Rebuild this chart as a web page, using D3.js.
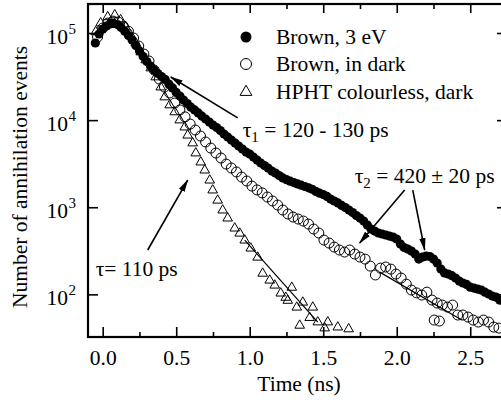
<!DOCTYPE html>
<html>
<head>
<meta charset="utf-8">
<script src="https://cdn.jsdelivr.net/npm/d3@7"></script>
<style>
  html, body { margin: 0; padding: 0; background: #fff; }
  svg { display: block; font-family: "Liberation Serif", "Times New Roman", serif; }
</style>
</head>
<body>
<svg id="chart" width="501" height="403" font-family="Liberation Serif"></svg>
<script>
// --- data: [time (ns), counts] ---

// Brown, 3 eV (filled circles)
const brown3eV = [
  [-0.050, 76800], [-0.025, 97400], [0.000, 111000], [0.025, 120000], [0.050, 127000],
  [0.075, 129000], [0.100, 125000], [0.125, 116000], [0.150, 105000], [0.175, 93600],
  [0.200, 83100], [0.225, 71900], [0.250, 62200], [0.275, 53700], [0.300, 47100],
  [0.325, 41800], [0.350, 37600], [0.375, 34300], [0.400, 31700], [0.425, 29300],
  [0.450, 26000], [0.475, 23400], [0.500, 20800], [0.525, 18900], [0.550, 17000],
  [0.575, 15500], [0.600, 14100], [0.625, 13100], [0.650, 12100], [0.675, 11100],
  [0.700, 10300], [0.725, 9510], [0.750, 8780], [0.775, 8230], [0.800, 7600],
  [0.825, 6930], [0.850, 6400], [0.875, 5910], [0.900, 5460], [0.925, 5040],
  [0.950, 4660], [0.975, 4300], [1.000, 4080], [1.025, 3770], [1.050, 3480],
  [1.075, 3220], [1.100, 3010], [1.125, 2820], [1.150, 2600], [1.175, 2470],
  [1.200, 2310], [1.225, 2170], [1.250, 2070], [1.275, 1990], [1.300, 1920],
  [1.325, 1850], [1.350, 1790], [1.375, 1730], [1.400, 1670], [1.425, 1610],
  [1.450, 1520], [1.475, 1450], [1.500, 1400], [1.525, 1330], [1.550, 1240],
  [1.575, 1180], [1.600, 1120], [1.625, 1050], [1.650, 992], [1.675, 929],
  [1.700, 869], [1.725, 803], [1.750, 752], [1.775, 694], [1.800, 625],
  [1.825, 562], [1.850, 533], [1.875, 506], [1.900, 493], [1.925, 480],
  [1.950, 467], [1.975, 455], [2.000, 432], [2.025, 378], [2.050, 345],
  [2.075, 331], [2.100, 314], [2.125, 290], [2.150, 254], [2.175, 268],
  [2.200, 275], [2.225, 272], [2.250, 254], [2.275, 229], [2.300, 195],
  [2.325, 176], [2.350, 171], [2.375, 164], [2.400, 154], [2.425, 142],
  [2.450, 135], [2.475, 130], [2.500, 121], [2.525, 118], [2.550, 115],
  [2.575, 112], [2.600, 106], [2.625, 101], [2.650, 95.6], [2.675, 93.1],
  [2.700, 86.0], [2.725, 86.0]
];

// Brown, in dark (open circles)
const brownDark = [
  [-0.035, 90000], [0.000, 114000], [0.035, 130000], [0.070, 137000], [0.105, 134000],
  [0.140, 120000], [0.175, 105000], [0.210, 87600], [0.245, 70900], [0.280, 57400],
  [0.315, 47700], [0.350, 37600], [0.385, 29600], [0.420, 24000], [0.455, 20500],
  [0.490, 15700], [0.525, 13100], [0.560, 10900], [0.595, 9020], [0.630, 7700],
  [0.665, 6570], [0.700, 5610], [0.735, 4780], [0.770, 4190], [0.805, 3670],
  [0.840, 3130], [0.875, 2820], [0.910, 2540], [0.945, 2220], [0.980, 2000],
  [1.015, 1750], [1.050, 1580], [1.085, 1460], [1.120, 1310], [1.155, 1180],
  [1.190, 1060], [1.225, 929], [1.260, 836], [1.295, 772], [1.330, 732],
  [1.365, 694], [1.400, 641], [1.435, 562], [1.470, 506], [1.505, 420],
  [1.540, 388], [1.575, 349], [1.610, 323], [1.645, 306], [1.680, 323],
  [1.715, 290], [1.750, 268], [1.785, 254], [1.820, 211], [1.855, 167],
  [1.890, 200], [1.925, 206], [1.960, 195], [1.995, 171], [2.030, 154],
  [2.065, 131], [2.100, 112], [2.135, 104], [2.170, 98.2], [2.205, 106],
  [2.240, 86.0], [2.255, 50.7], [2.275, 79.5], [2.290, 49.4], [2.310, 75.4],
  [2.345, 71.5], [2.380, 75.4], [2.415, 57.9], [2.450, 57.9], [2.485, 54.9],
  [2.520, 50.7], [2.555, 48.1], [2.590, 50.7], [2.625, 48.1], [2.660, 42.1],
  [2.695, 41.0]
];

// HPHT colourless, dark (open triangles)
const hphtDark = [
  [-0.048, 103000], [-0.014, 130000], [0.034, 153000], [0.082, 161000], [0.122, 141000],
  [0.156, 117000], [0.190, 95000], [0.224, 77000], [0.259, 60500], [0.293, 49000],
  [0.327, 39600], [0.361, 31200], [0.395, 23900], [0.422, 18400], [0.456, 14900],
  [0.490, 12400], [0.524, 10000], [0.558, 8300], [0.578, 6700], [0.612, 5450],
  [0.633, 4180], [0.667, 3290], [0.694, 2660], [0.728, 2040], [0.748, 1570],
  [0.782, 1200], [0.816, 925], [0.850, 748], [0.898, 574], [0.932, 502],
  [0.966, 418], [1.007, 338], [1.054, 266], [1.088, 174], [1.136, 145],
  [1.170, 127], [1.211, 103], [1.245, 92], [1.259, 85], [1.286, 120],
  [1.320, 71], [1.340, 44], [1.361, 81], [1.408, 54], [1.429, 71],
  [1.463, 48], [1.510, 41], [1.531, 48], [1.599, 42], [1.673, 40]
];

// fitted exponential segments (end points)
const fitDark = [[1.884, 180], [2.442, 50.7]];
const fitHPHT = [[0.966, 420], [1.463, 48.1]];

const legendLabels = ["Brown, 3 eV", "Brown, in dark", "HPHT colourless, dark"];
const xTicks = [0, 0.5, 1.0, 1.5, 2.0, 2.5];
const xMinorTicks = [0.25, 0.75, 1.25, 1.75, 2.25];
const yDecades = [2, 3, 4, 5];

// --- layout ---
const svg = d3.select("#chart");
const plotL = 88, plotR = 507, plotT = 4, plotB = 337;

const x = d3.scaleLinear().domain([-0.1, 2.75]).range([plotL, plotR]);
const y = d3.scaleLog().domain([32.4, 2.153e5]).range([plotB, plotT]);

const defs = svg.append("defs");
// arrowhead
defs.append("marker")
  .attr("id", "arrow")
  .attr("markerUnits", "userSpaceOnUse")
  .attr("markerWidth", 13).attr("markerHeight", 8)
  .attr("refX", 12).attr("refY", 4)
  .attr("orient", "auto")
  .append("path").attr("d", "M0,0.8 L13,4 L0,7.2 Z").attr("fill", "#000");

defs.append("clipPath").attr("id", "plot")
  .append("rect").attr("x", plotL).attr("y", plotT)
  .attr("width", plotR - plotL).attr("height", plotB - plotT);

const plot = svg.append("g").attr("clip-path", "url(#plot)");

// filled circles
plot.append("g").selectAll("circle")
  .data(brown3eV).join("circle")
  .attr("cx", d => x(d[0])).attr("cy", d => y(d[1]))
  .attr("r", 4.6).attr("fill", "#000");

// open circles
plot.append("g").selectAll("circle")
  .data(brownDark).join("circle")
  .attr("cx", d => x(d[0])).attr("cy", d => y(d[1]))
  .attr("r", 5).attr("fill", "none").attr("stroke", "#000").attr("stroke-width", 1);

// triangles
const tri = d3.symbol(d3.symbolTriangle).size(40);
plot.append("g").selectAll("path")
  .data(hphtDark).join("path")
  .attr("d", tri)
  .attr("transform", d => `translate(${x(d[0])},${y(d[1])})`)
  .attr("fill", "none").attr("stroke", "#000").attr("stroke-width", 1);

// fit lines
const line = d3.line().x(d => x(d[0])).y(d => y(d[1]));
[fitDark, fitHPHT].forEach(f => {
  plot.append("path").attr("d", line(f))
    .attr("fill", "none").attr("stroke", "#000").attr("stroke-width", 1.2);
});

// --- axes (ticks point inward) ---
const axG = svg.append("g");
function styleAxis(g) {
  g.select(".domain").remove();
  g.attr("font-family", "Liberation Serif");
  g.selectAll("line").attr("stroke", "#000").attr("stroke-width", 1.6);
  g.selectAll("text").attr("font-size", 21.5).attr("fill", "#000");
}
axG.append("g").attr("transform", `translate(0,${plotB})`)
  .call(d3.axisBottom(x).tickValues(xTicks).tickSize(-10).tickPadding(13).tickFormat(d3.format(".1f")))
  .call(styleAxis);
axG.append("g").attr("transform", `translate(0,${plotB})`)
  .call(d3.axisBottom(x).tickValues(xMinorTicks).tickSize(-5).tickFormat(""))
  .call(styleAxis);
axG.append("g").attr("transform", `translate(0,${plotT})`)
  .call(d3.axisTop(x).tickValues(xTicks).tickSize(-9).tickFormat(""))
  .call(styleAxis);
axG.append("g").attr("transform", `translate(0,${plotT})`)
  .call(d3.axisTop(x).tickValues(xMinorTicks).tickSize(-5).tickFormat(""))
  .call(styleAxis);
const decadeVals = yDecades.map(p => Math.pow(10, p));
axG.append("g").attr("transform", `translate(${plotL},0)`)
  .call(d3.axisLeft(y).tickValues(decadeVals).tickSize(-10).tickFormat(""))
  .call(styleAxis);
axG.append("g").attr("transform", `translate(${plotR},0)`)
  .call(d3.axisRight(y).tickValues(decadeVals).tickSize(-10).tickFormat(""))
  .call(styleAxis);

// frame
svg.append("rect")
  .attr("x", plotL).attr("y", plotT)
  .attr("width", plotR - plotL).attr("height", plotB - plotT)
  .attr("fill", "none").attr("stroke", "#000").attr("stroke-width", 2.2);

// y tick labels 10^n
const yl = svg.append("g").attr("fill", "#000");
yDecades.forEach(p => {
  const yy = y(Math.pow(10, p));
  yl.append("text").attr("x", 68).attr("y", yy + 11)
    .attr("text-anchor", "end").attr("font-size", 21.5).text("10");
  yl.append("text").attr("x", 68.5).attr("y", yy + 1)
    .attr("font-size", 15).text(p);
});

// axis titles
svg.append("text")
  .attr("x", 299).attr("y", 391)
  .attr("text-anchor", "middle").attr("font-size", 21.5)
  .text("Time (ns)");
svg.append("text")
  .attr("transform", "translate(27,177) rotate(-90)")
  .attr("text-anchor", "middle").attr("font-size", 21.5)
  .text("Number of annihilation events");

// legend
const leg = svg.append("g");
const legY = [37, 64, 92];
leg.append("circle").attr("cx", 246).attr("cy", legY[0]).attr("r", 5.5).attr("fill", "#000");
leg.append("circle").attr("cx", 246).attr("cy", legY[1]).attr("r", 5.5)
  .attr("fill", "none").attr("stroke", "#000").attr("stroke-width", 1);
leg.append("path").attr("d", d3.symbol(d3.symbolTriangle).size(60))
  .attr("transform", `translate(246,${legY[2]})`)
  .attr("fill", "none").attr("stroke", "#000").attr("stroke-width", 1);
legendLabels.forEach((s, i) => {
  leg.append("text").attr("x", 276).attr("y", legY[i] + 7)
    .attr("font-size", 21.5).text(s);
});

// annotations: arrows in data coordinates
const arrows = [
  [[0.918, 10600], [0.463, 31300]],
  [[2.054, 1576], [1.748, 388]],
  [[2.109, 1576], [2.190, 323]],
  [[0.306, 323], [0.578, 2053]]
];
arrows.forEach(a => {
  svg.append("line")
    .attr("x1", x(a[0][0])).attr("y1", y(a[0][1]))
    .attr("x2", x(a[1][0])).attr("y2", y(a[1][1]))
    .attr("stroke", "#000").attr("stroke-width", 1.6)
    .attr("marker-end", "url(#arrow)");
});

function tauLabel(px, py, sub, rest) {
  const t = svg.append("text").attr("x", px).attr("y", py).attr("font-size", 21.5);
  t.append("tspan").text("τ");
  if (sub) {
    t.append("tspan").attr("dy", 5).attr("font-size", 15).text(sub);
    t.append("tspan").attr("dy", -5).text(rest);
  } else {
    t.append("tspan").text(rest);
  }
}
tauLabel(x(0.952), y(6400), "1", " = 120 - 130 ps");
tauLabel(x(1.714), y(1896), "2", " = 420 ± 20 ps");
tauLabel(x(-0.048), y(162), null, "= 110 ps");
</script>
</body>
</html>
